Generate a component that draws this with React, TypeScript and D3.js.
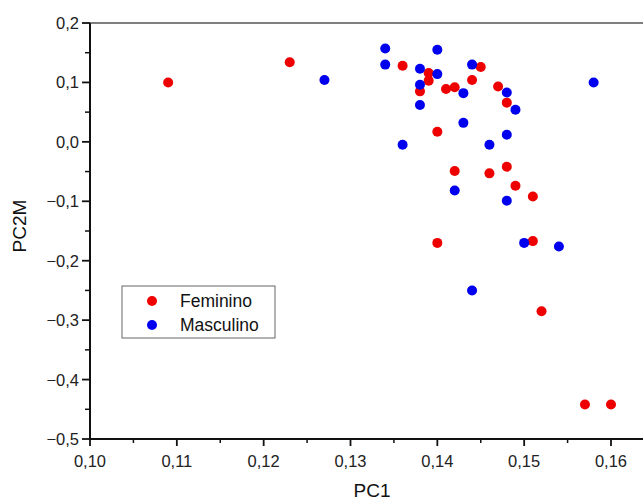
import React from "react";
import * as d3 from "d3";

const feminino: [number, number][] = [
  [0.109, 0.1], [0.123, 0.134], [0.136, 0.128], [0.139, 0.116], [0.139, 0.103],
  [0.138, 0.085], [0.141, 0.089], [0.142, 0.092], [0.145, 0.126], [0.144, 0.104],
  [0.147, 0.093], [0.148, 0.066], [0.14, 0.017], [0.148, -0.042], [0.146, -0.053],
  [0.142, -0.049], [0.149, -0.074], [0.151, -0.092], [0.14, -0.17], [0.151, -0.167],
  [0.152, -0.285], [0.157, -0.442], [0.16, -0.442],
];

const masculino: [number, number][] = [
  [0.127, 0.104], [0.134, 0.157], [0.134, 0.13], [0.14, 0.155], [0.138, 0.123],
  [0.14, 0.114], [0.138, 0.096], [0.143, 0.082], [0.144, 0.13], [0.138, 0.062],
  [0.143, 0.032], [0.136, -0.005], [0.146, -0.005], [0.148, 0.083], [0.149, 0.054],
  [0.158, 0.1], [0.148, 0.012], [0.142, -0.082], [0.148, -0.099], [0.15, -0.17],
  [0.154, -0.176], [0.144, -0.25],
];

const xTicks = [0.1, 0.11, 0.12, 0.13, 0.14, 0.15, 0.16];
const yTicks = [0.2, 0.1, 0.0, -0.1, -0.2, -0.3, -0.4, -0.5];
const seriesNames = ["Feminino", "Masculino"];
const colors = ["#ee0000", "#0000ee"];

const W = 643;
const H = 502;
const left = 90;
const bottom = 439;
const top = 23;
const font = "Arial, 'Liberation Sans', sans-serif";

export default function App() {
  const x = d3.scaleLinear().domain([0.1, 0.16]).range([left, 611]);
  const y = d3.scaleLinear().domain([-0.5, 0.2]).range([bottom, top]);
  const xMinor = d3.range(0.105, 0.166, 0.01);
  const yMinor = d3.range(-0.45, 0.2, 0.1);
  const fmtX = (v: number) => d3.format(".2f")(v).replace(".", ",");
  const fmtY = (v: number) => d3.format(".1f")(Math.abs(v) < 1e-9 ? 0 : v).replace(".", ",");
  const series = [feminino, masculino];

  return (
    <svg width={W} height={H} style={{ position: "absolute", left: 0, top: 0, background: "#fff" }}>
      <rect x={0} y={0} width={W} height={H} fill="#fff" />
      <line x1={left} x2={W} y1={top} y2={top} stroke="#555" strokeWidth={1.5} />
      <line x1={left} x2={left} y1={top} y2={bottom + 1} stroke="#111" strokeWidth={2} />
      <line x1={left - 1} x2={W} y1={bottom} y2={bottom} stroke="#111" strokeWidth={2} />
      {yTicks.map((t) => (
        <g key={"y" + t}>
          <line x1={left - 8} x2={left} y1={y(t)} y2={y(t)} stroke="#111" strokeWidth={1.8} />
          <text x={left - 11} y={y(t)} dy="0.36em" textAnchor="end" fontSize={16.5} fontFamily={font} fill="#222">
            {fmtY(t)}
          </text>
        </g>
      ))}
      {yMinor.map((t) => (
        <line key={"ym" + t} x1={left - 5} x2={left} y1={y(t)} y2={y(t)} stroke="#111" strokeWidth={1.5} />
      ))}
      {xTicks.map((t) => (
        <g key={"x" + t}>
          <line x1={x(t)} x2={x(t)} y1={bottom} y2={bottom + 7} stroke="#111" strokeWidth={1.8} />
          <text x={x(t)} y={467} textAnchor="middle" fontSize={16.5} fontFamily={font} fill="#222">
            {fmtX(t)}
          </text>
        </g>
      ))}
      {xMinor.map((t) => (
        <line key={"xm" + t} x1={x(t)} x2={x(t)} y1={bottom} y2={bottom + 4} stroke="#111" strokeWidth={1.5} />
      ))}
      <text x={372} y={497} textAnchor="middle" fontSize={19} fontFamily={font} fill="#111">
        PC1
      </text>
      <text
        transform={`translate(26,226) rotate(-90)`}
        textAnchor="middle"
        fontSize={19}
        fontFamily={font}
        fill="#111"
      >
        PC2M
      </text>
      {series.map((s, i) =>
        s.map((d, j) => (
          <circle key={i + "-" + j} cx={x(d[0])} cy={y(d[1])} r={5} fill={colors[i]} />
        ))
      )}
      <rect x={122} y={286} width={153} height={52} fill="#fff" stroke="#666" strokeWidth={1} />
      {seriesNames.map((n, i) => (
        <g key={n}>
          <circle cx={152} cy={301 + i * 24} r={5} fill={colors[i]} />
          <text x={180} y={301 + i * 24} dy="0.36em" fontSize={17.5} fontFamily={font} fill="#111">
            {n}
          </text>
        </g>
      ))}
    </svg>
  );
}
